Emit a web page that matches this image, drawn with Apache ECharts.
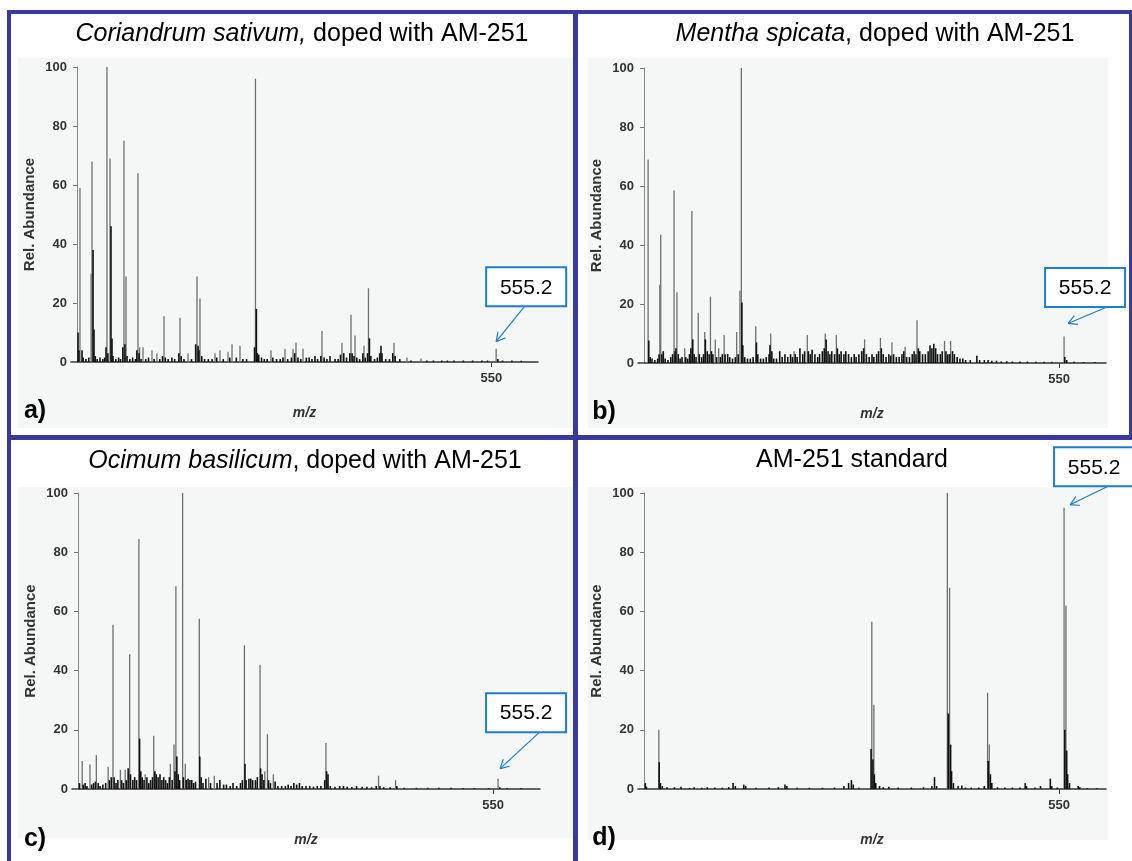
<!DOCTYPE html>
<html><head><meta charset="utf-8">
<script src="https://cdn.jsdelivr.net/npm/echarts/dist/echarts.min.js"></script>
<style>html,body{margin:0;padding:0;background:#fff}#c{width:1132px;height:861px}</style>
</head><body><div id="c"></div>
<script>
const FONT = "'Liberation Sans', Arial, Helvetica, sans-serif";

// ---------- data ----------
const panelTitles = [
  '{i|Coriandrum sativum,} doped with AM-251',
  '{i|Mentha spicata}, doped with AM-251',
  '{i|Ocimum basilicum}, doped with AM-251',
  'AM-251 standard'
];
const panelLetters = ['a)', 'b)', 'c)', 'd)'];
const xTickValues = [550];
const xRange = [100, 600];
const yTickValues = [0, 20, 40, 60, 80, 100];
const yAxisTitle = 'Rel. Abundance';
const xAxisTitle = 'm/z';
const annotatedMz = 555.2;
const annotationText = '555.2';

// [m/z, relative abundance] — tall (grey) peaks
const peaksA = [[109.6,59],[121.5,30],[122.5,68],[138.5,100],[141.8,69],[156.7,75],[158.9,29],[171.7,64],[173.5,5],[177.1,5],[186.7,4],[192,3],[199.6,15.5],[216.7,15],[225.3,3],[234.9,29],[238.1,21.5],[254.2,3],[259.5,4],[268.1,3.5],[272.4,6],[280.9,5.5],[297.5,96],[314.1,4],[329.1,4.5],[337.7,4.5],[340.9,6.5],[348.4,4.5],[368.7,10.5],[390.1,6.5],[399.8,16],[404.1,9],[413.7,5.5],[418.5,25],[445.8,6.5],[459.7,1.5],[474.7,1.2],[555.2,4.5]];
// low, dense (black) ion clusters
const baseA = [[107.5,10],[108.5,4],[111.8,4],[113,1.5],[116,1],[119,1.5],[123.6,38],[124.6,11],[126,2],[128,1],[131,1.5],[134,1],[136,1.5],[137.5,5],[139.5,3],[142.8,46],[143.9,8],[145,2],[148,1],[151,1.5],[153,1],[155.5,5],[157.8,6],[160,2],[163,1],[166,1.5],[169,1],[170.5,4],[172.8,3],[175,1],[180,1],[183,1.5],[189,1],[195,1],[198,2],[201,1.5],[204,1],[208,1.5],[211,1],[215.5,3],[218,2],[221,1],[229,1],[233.5,6],[236,5.5],[237,4],[240,2],[243,1],[247,1],[251,1],[256,1.5],[263,1],[270,1.5],[277,1.5],[284,1],[288,1],[296.5,5],[298.5,18],[299.5,3],[301,2.5],[304,1.5],[307,1],[310,1],[316,1.5],[320,1],[324,1],[327,1.5],[332,1],[336,1.5],[339.5,3],[343,1.5],[346,1],[352,1.5],[355,1.5],[358,1],[361.2,2],[364,1],[367.5,2],[371,1.5],[374,1],[377.3,2],[382.7,1],[386,1],[388.5,2.5],[392,3],[395,1.5],[398.5,3],[401,3],[403,2],[406,1.5],[409,1],[412.5,3],[415,1.5],[417.5,3],[419.5,8],[421,2],[425,1],[428,1.5],[430.5,3],[431.9,5.5],[433,3],[437,1],[441,1],[444.5,3],[447,2],[452,1],[464,0.5],[481,0.5],[488,0.5],[497,0.5],[503,0.5],[510,0.5],[520,0.5],[530,0.5],[540,0.5],[546,0.5],[557,1],[562,0.5],[572,0.5],[582,0.4]];

const peaksB = [[110.8,69],[123.3,26.5],[124.3,43.5],[138.5,58.5],[141.6,24],[149.9,5],[157.6,51.5],[164.4,17],[171.3,10.5],[177.4,22.5],[182.5,8],[186.2,5],[192,9.5],[205.4,10.5],[208.9,24.5],[210.4,100],[225.8,12.5],[241.8,10],[266.7,4],[280.9,9.5],[300,10],[311.9,9.5],[342.1,8],[359,8.5],[371.3,7],[385.4,5.5],[398.1,14.5],[427.5,7.5],[434,7.5],[555.2,9]];
const baseB = [[111.5,7.6],[113,2],[115,1.5],[118,1],[121,1.5],[122.5,3],[125.5,3],[127,4],[129,1.5],[132,1],[135,2],[137,3],[139.5,4],[140.5,5],[143,3],[145,1.5],[147,2],[151,2],[153,1.5],[155,3],[156.5,5],[158.5,8],[160,3],[162,2],[165.5,3],[168,2],[170,3],[172,8],[174,4],[176,3],[178.5,4],[180,3],[184,2],[188,2],[190,3],[193,3],[195.8,3],[198,2],[201,1.5],[204,2],[207,3],[211,20.5],[212,6],[214,2],[217,1.5],[220,1.5],[223,2],[226.5,7],[228,3],[231,1.5],[234,1.5],[237,2],[240,3],[241,6],[243,4],[245,1.5],[248,1.5],[251.4,4],[254,2],[257,3],[260,2],[263,3],[265,2],[268,3],[270,2],[273,5],[276,3],[278,4],[282,4],[284,3],[286,4.5],[289,3],[292,2],[294,3],[297,4],[299,5],[301,8],[303,4],[305,3],[307,4],[310,3],[313,5],[315,3],[317,4],[320,3],[322,4],[325,3],[328,2],[331,3],[333,2],[336,3],[339,4],[341,5],[344,3],[347,2],[350,3],[352,2],[355,3],[357,4],[360,5],[362,3],[365,2],[368,3],[370,2.5],[373,3],[376,2],[379,2],[382,3],[384,4],[387,2],[390,2],[393,3],[395,4],[397,3],[399.5,5],[401,4],[404,3],[407,3],[410,4],[412,6],[414,5],[416,6.5],[418,5],[420,3],[423,3],[425,4],[429,4],[431,3],[433,3],[436,4],[438,3],[441,2],[444,1.5],[447,1.5],[450,1],[455,1],[462,2.5],[465,1],[470,1],[474,1],[478,0.8],[483,0.8],[488,0.5],[494,0.6],[500,0.5],[508,0.5],[516,0.5],[525,0.4],[534,0.4],[542,0.4],[556,2],[558,1],[566,0.4],[576,0.3],[588,0.3]];

const peaksC = [[110.9,9.5],[119.2,8.3],[126,11.5],[138.6,7.5],[143.8,55.5],[151.7,6.5],[156.8,6.5],[161.6,45.5],[171.5,84.5],[178.2,5],[187.3,18],[205.1,8.5],[209,15],[211,68.5],[218.2,100],[221,8.5],[236,57.5],[246,4],[252,4.5],[284.2,48.5],[300.9,42],[306,6],[308.8,18.5],[315.1,5],[371.3,15.5],[427.5,4.5],[445.7,3],[555.2,3.5]];
const baseC = [[108,2],[112,1.5],[114,2],[116,1],[121,1.5],[123,2],[125,2.5],[128,2],[130,1],[133,1.5],[136,2],[140,3],[142,4],[145,4],[147,2],[149,3],[153,3],[155,2],[158,3],[160,7],[162.5,5],[165,3],[167,4],[169,3],[172.2,17],[173.5,6],[175,4],[177,3],[180,4],[182,2],[184,3],[186,4],[188.5,6],[190,5],[192,4],[194,5],[196,3],[198,4],[200,3],[202,2],[204,4],[207,3],[210,6],[212,11],[213.5,5],[215,3],[219,4],[222,3],[224,3.5],[226,3],[228,3],[230,2],[232,2.5],[236.5,11],[238,4],[240,2],[243,3.5],[248,2],[255,2],[258,3],[262,1.5],[265,1.5],[269,1],[272,2],[276,1],[280,2],[282,3],[284.8,8.5],[286,3],[289,3.5],[291,3.5],[293,3],[296,3],[298,4],[301.5,7],[303,5],[305,3],[310,3],[312,2],[317,2.5],[320,1],[324,1],[328,1],[331,1.5],[334,1],[337,2],[340,1.5],[343,2],[346,1],[350,1],[354,1],[358,0.8],[362,1],[366,1],[370,3],[372,6],[373.5,5],[376,1],[381,0.8],[386,1],[390,1],[394,0.8],[399,0.7],[404,1],[410,0.8],[415,0.8],[420,0.6],[425,1],[429,1],[433,0.6],[440,0.6],[447,1],[455,0.4],[468,0.4],[480,0.4],[492,0.4],[505,0.4],[518,0.3],[530,0.3],[545,0.3],[557,0.6],[565,0.3],[580,0.3]];

const peaksD = [[122.3,20],[349.8,56.5],[352,28.5],[430.5,100],[432.9,68],[473.5,32.5],[475.3,15],[555.2,95],[557.2,62]];
const baseD = [[107.8,2],[109,0.8],[122.6,9],[124,2],[126,1],[131,0.6],[139,0.6],[146,0.8],[155,0.4],[160,0.6],[168,0.4],[174,0.6],[182,0.5],[190,0.4],[197,0.6],[201.6,2],[204,1],[213,1.5],[215,1],[226,0.4],[240,0.5],[250,0.6],[257,1.5],[259,1],[270,0.4],[283,0.4],[297,0.4],[310,0.5],[320,1],[325,2],[328,3],[330,1.5],[336,0.4],[349,13.5],[351,10],[352.5,5],[354,2],[358,1],[362,0.6],[368,0.8],[378,0.5],[392,0.5],[405,0.6],[414,1],[416.8,4],[419,1],[431.5,25.5],[434,15],[435,6],[437,2],[442,1],[446,1.2],[450,0.5],[456,0.5],[464,0.5],[470,1],[474.2,9.5],[476.5,5],[478,2],[484,0.6],[492,0.5],[500,0.5],[508,0.5],[513.7,2],[515,1],[524,0.5],[530,1],[540.5,3.5],[542,1],[548,0.5],[556,20],[558,13],[559,5],[561,2],[570.3,1],[572,0.6],[580,0.3],[590,0.3]];

const allPeaks = [peaksA, peaksB, peaksC, peaksD];
const allBase = [baseA, baseB, baseC, baseD];

// ---------- layout ----------
const grids = [
  {left: 71, top: 67, width: 467, height: 295},
  {left: 638, top: 68, width: 468, height: 295},
  {left: 72, top: 493, width: 468, height: 296},
  {left: 638, top: 493, width: 468, height: 296}
];
const titlePos = [[302, 34], [875, 34], [305, 461], [852, 460]];
const letterPos = [[35, 411], [604, 412], [35, 839], [604, 838]];
const bgRects = [
  {x: 18, y: 58, width: 555, height: 370},
  {x: 588, y: 58, width: 520, height: 370},
  {x: 18, y: 487, width: 555, height: 351},
  {x: 588, y: 487, width: 520, height: 353}
];
// annotation offsets (px) from the 555.2 peak top: arrow tip, arrow start, box centre
const annotLayout = [
  {tip: [0, -7], start: [29, -43], box: [30, -62]},
  {tip: [4, -13], start: [44, -30], box: [21, -49]},
  {tip: [2, -10], start: [41, -46], box: [28, -66]},
  {tip: [6, -3], start: [45, -22], box: [30, -41]}
];

function renderLines(color, width) {
  return function (params, api) {
    const x = api.value(0), y = api.value(1);
    const p0 = api.coord([x, 0]);
    const p1 = api.coord([x, y]);
    return {type: 'line', shape: {x1: p0[0], y1: p0[1], x2: p1[0], y2: p1[1]},
      style: {stroke: color, lineWidth: width}};
  };
}

const chart = echarts.init(document.getElementById('c'), null, {renderer: 'canvas'});

const xAxes = [], yAxes = [], series = [];
grids.forEach((g, i) => {
  xAxes.push({
    type: 'value', gridIndex: i, min: xRange[0], max: xRange[1],
    axisLine: {show: true, onZero: false, lineStyle: {color: '#333', width: 1.5}},
    axisTick: {show: true, length: 5, customValues: xTickValues, lineStyle: {color: '#444'}},
    axisLabel: {show: true, customValues: xTickValues, margin: 10, fontSize: 13, fontWeight: 'bold',
      color: '#333', fontFamily: FONT},
    splitLine: {show: false},
    name: xAxisTitle, nameLocation: 'middle', nameGap: 44,
    nameTextStyle: {fontSize: 14, fontWeight: 'bold', fontStyle: 'italic', color: '#333', fontFamily: FONT}
  });
  yAxes.push({
    type: 'value', gridIndex: i, min: 0, max: 100, offset: -6,
    axisLine: {show: true, lineStyle: {color: '#888', width: 1}},
    axisTick: {show: true, length: 4, customValues: yTickValues, lineStyle: {color: '#777'}},
    axisLabel: {customValues: yTickValues, margin: 10, fontSize: 13, fontWeight: 'bold', color: '#333', fontFamily: FONT},
    splitLine: {show: false},
    name: yAxisTitle, nameLocation: 'middle', nameGap: 40, nameRotate: 90,
    nameTextStyle: {fontSize: 15, fontWeight: 'bold', color: '#333', fontFamily: FONT}
  });
  series.push({
    type: 'custom', xAxisIndex: i, yAxisIndex: i, data: allBase[i], silent: true,
    encode: {x: 0, y: 1}, renderItem: renderLines('#111', 1.6), z: 3
  });
  series.push({
    type: 'custom', xAxisIndex: i, yAxisIndex: i, data: allPeaks[i], silent: true,
    encode: {x: 0, y: 1}, renderItem: renderLines('#6f6f6f', 1.3), z: 2
  });
});

chart.setOption({
  animation: false,
  backgroundColor: '#ffffff',
  grid: grids.map(g => Object.assign({containLabel: false}, g)),
  xAxis: xAxes, yAxis: yAxes, series: series
});

// ---------- decorations ----------
const BORDER = '#3a3a9c';
const BLUE = '#1f7dd0';
const graphics = [];
bgRects.forEach(r => graphics.push({type: 'rect', shape: r, style: {fill: '#f5f7f7'}, z: -10, silent: true}));

graphics.push({type: 'rect', shape: {x: 7, y: 10, width: 1125, height: 4}, style: {fill: BORDER}, z: 100});
graphics.push({type: 'rect', shape: {x: 7, y: 10, width: 4, height: 851}, style: {fill: BORDER}, z: 100});
graphics.push({type: 'rect', shape: {x: 573, y: 10, width: 5, height: 851}, style: {fill: BORDER}, z: 100});
graphics.push({type: 'rect', shape: {x: 7, y: 435, width: 1125, height: 5}, style: {fill: BORDER}, z: 100});
graphics.push({type: 'rect', shape: {x: 1129, y: 10, width: 3, height: 428}, style: {fill: BORDER}, z: 100});

panelTitles.forEach((t, i) => {
  graphics.push({type: 'text', x: titlePos[i][0], y: titlePos[i][1], z: 50,
    style: {text: t, align: 'center', verticalAlign: 'middle', fontSize: 25, fontFamily: FONT, fill: '#000',
      rich: {i: {fontStyle: 'italic', fontSize: 25, fontFamily: FONT, fill: '#000'}}}});
});
panelLetters.forEach((t, i) => {
  graphics.push({type: 'text', x: letterPos[i][0], y: letterPos[i][1], z: 50,
    style: {text: t, align: 'center', verticalAlign: 'middle', fontSize: 25, fontWeight: 'bold', fontFamily: FONT, fill: '#000'}});
});

allPeaks.forEach((pk, i) => {
  const entry = pk.find(p => p[0] === annotatedMz);
  const top = chart.convertToPixel({gridIndex: i}, [entry[0], entry[1]]);
  const L = annotLayout[i];
  const tip = [top[0] + L.tip[0], top[1] + L.tip[1]];
  const st = [top[0] + L.start[0], top[1] + L.start[1]];
  const bc = [top[0] + L.box[0], top[1] + L.box[1]];
  graphics.push({type: 'line', shape: {x1: st[0], y1: st[1], x2: tip[0], y2: tip[1]},
    style: {stroke: BLUE, lineWidth: 1.2}, z: 60});
  const dx = tip[0] - st[0], dy = tip[1] - st[1];
  const len = Math.hypot(dx, dy), ux = dx / len, uy = dy / len;
  [0.5, -0.5].forEach(a => {
    const c = Math.cos(a), s = Math.sin(a);
    const rx = ux * c - uy * s, ry = ux * s + uy * c;
    graphics.push({type: 'line', shape: {x1: tip[0], y1: tip[1], x2: tip[0] - rx * 10, y2: tip[1] - ry * 10},
      style: {stroke: BLUE, lineWidth: 1.2}, z: 60});
  });
  graphics.push({type: 'rect', shape: {x: bc[0] - 40, y: bc[1] - 19.5, width: 80, height: 39},
    style: {fill: '#fff', stroke: BLUE, lineWidth: 2}, z: 61});
  graphics.push({type: 'text', x: bc[0], y: bc[1] + 1, z: 62,
    style: {text: annotationText, align: 'center', verticalAlign: 'middle', fontSize: 21, fontFamily: FONT, fill: '#000'}});
});

chart.setOption({graphic: graphics});
</script>
</body></html>
